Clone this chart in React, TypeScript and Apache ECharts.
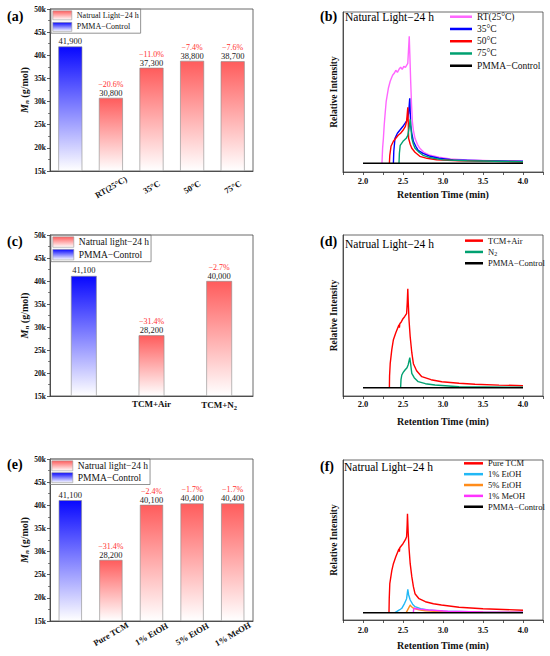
import React, { useEffect, useRef } from 'react';
import * as echarts from 'echarts';

const FONT = '"Liberation Serif", "Times New Roman", serif';
const CTRL = 'PMMA−Control';

// ---------- bar panels ----------
const catsA = ['', 'RT(25°C)', '35°C', '50°C', '75°C'];
const ctrlA = [41900, null, null, null, null];
const lightA = [null, 30800, 37300, 38800, 38700];
const pctA = ['', '−20.6%', '−11.0%', '−7.4%', '−7.6%'];

const catsC = ['', 'TCM+Air', 'TCM+N2'];
const ctrlC = [41100, null, null];
const lightC = [null, 28200, 40000];
const pctC = ['', '−31.4%', '−2.7%'];

const catsE = ['', 'Pure TCM', '1% EtOH', '5% EtOH', '1% MeOH'];
const ctrlE = [41100, null, null, null, null];
const lightE = [null, 28200, 40100, 40400, 40400];
const pctE = ['', '−31.4%', '−2.4%', '−1.7%', '−1.7%'];

// ---------- GPC curves (retention time, relative intensity) ----------
const tickX = [1.75, 2, 2.25, 2.5, 2.75, 3, 3.25, 3.5, 3.75, 4, 4.25];
const labelX = [2, 2.5, 3, 3.5, 4];

const bRT = [
  [2.237, 0], [2.245, 15], [2.255, 25], [2.265, 38], [2.275, 48], [2.29, 62], [2.317, 75],
  [2.34, 82], [2.37, 88], [2.39, 90], [2.41, 93], [2.43, 91], [2.45, 94], [2.47, 96],
  [2.49, 94], [2.51, 97], [2.53, 96], [2.545, 98], [2.56, 100], [2.57, 115], [2.578, 127],
  [2.585, 110], [2.596, 82], [2.606, 60], [2.617, 42], [2.63, 33], [2.65, 25], [2.68, 19],
  [2.71, 15], [2.76, 11], [2.84, 8], [2.95, 6], [3.09, 4.4], [3.3, 3.4], [3.6, 2.6], [4.0, 2],
];
const b35 = [
  [2.38, 0], [2.385, 12], [2.4, 25], [2.43, 30], [2.46, 33], [2.5, 37], [2.525, 40],
  [2.55, 43], [2.57, 50], [2.584, 65], [2.59, 52], [2.596, 38], [2.61, 30], [2.63, 22],
  [2.66, 17], [2.69, 13], [2.75, 10], [2.84, 7], [2.95, 5], [3.13, 3.4], [3.5, 2.5], [4.0, 2],
];
const b50 = [
  [2.33, 0], [2.335, 8], [2.35, 17], [2.38, 22], [2.41, 25], [2.44, 28], [2.47, 30],
  [2.5, 33], [2.53, 37], [2.545, 42], [2.56, 56], [2.566, 40], [2.57, 25], [2.59, 19],
  [2.61, 15], [2.65, 11], [2.71, 7], [2.8, 5], [2.92, 3.5], [3.2, 2.5], [4.0, 1.5],
];
const b75 = [
  [2.45, 0], [2.455, 10], [2.465, 18], [2.5, 22], [2.54, 25], [2.56, 28], [2.575, 35],
  [2.59, 44], [2.6, 35], [2.61, 25], [2.63, 19], [2.65, 15], [2.7, 11], [2.75, 8],
  [2.85, 5.5], [3.0, 3.4], [3.3, 2.5], [4.0, 1.5],
];
const baseLine = [[2.0, 0], [4.0, 0]];

const dAir = [
  [2.33, 0], [2.332, 12], [2.34, 24], [2.36, 38], [2.38, 48], [2.41, 55], [2.44, 61],
  [2.45, 63], [2.455, 60], [2.46, 64], [2.48, 66], [2.5, 69], [2.52, 71], [2.545, 74],
  [2.553, 85], [2.56, 99], [2.566, 85], [2.575, 68], [2.59, 51], [2.61, 35], [2.63, 24],
  [2.67, 17], [2.735, 11], [2.85, 8], [2.985, 6], [3.2, 4.5], [3.4, 3.4], [3.7, 2.6], [4.0, 2],
];
const dN2 = [
  [2.47, 0], [2.475, 8], [2.485, 12.7], [2.5, 15], [2.525, 17.7], [2.55, 20], [2.565, 23],
  [2.585, 30], [2.595, 24], [2.61, 14.4], [2.64, 10], [2.69, 6], [2.78, 4], [2.9, 2.7],
  [3.2, 1], [4.0, 0.5],
];

const fTCM = [
  [2.325, 0], [2.328, 14], [2.335, 29], [2.36, 42], [2.38, 49], [2.41, 56], [2.44, 62],
  [2.45, 64], [2.455, 61], [2.46, 65], [2.47, 66], [2.5, 69], [2.53, 73], [2.545, 76],
  [2.552, 88], [2.556, 99], [2.565, 80], [2.575, 65], [2.59, 49], [2.61, 36], [2.63, 26],
  [2.65, 19], [2.7, 14], [2.78, 11], [2.88, 9], [2.98, 7.7], [3.2, 5.5], [3.5, 4], [4.0, 2.5],
];
const fEt1 = [
  [2.4, 0], [2.43, 1.5], [2.46, 3], [2.485, 4.4], [2.52, 9.4], [2.545, 14], [2.56, 23.4],
  [2.57, 18], [2.59, 12.7], [2.62, 8.5], [2.65, 6], [2.72, 4], [2.815, 2.7], [3.0, 1.5],
  [3.5, 0.8], [4.0, 0.5],
];
const fEt5 = [
  [2.54, 0], [2.56, 3], [2.58, 6], [2.59, 7.7], [2.6, 6.5], [2.63, 4.4], [2.7, 3],
  [2.78, 2], [3.0, 1], [3.5, 0.5], [4.0, 0.3],
];
const fMe1 = [
  [2.63, 0], [2.632, 3], [2.64, 4.4], [2.7, 3.6], [2.82, 2.7], [3.06, 1.4], [3.5, 0.8], [4.0, 0.5],
];

const fmt = (v: number) => v.toLocaleString('en-US');

const blueGrad = () =>
  new echarts.graphic.LinearGradient(0, 0, 0, 1, [
    { offset: 0, color: '#0808ff' },
    { offset: 1, color: '#ffffff' },
  ]);
const redGrad = () =>
  new echarts.graphic.LinearGradient(0, 0, 0, 1, [
    { offset: 0, color: '#ff5c5c' },
    { offset: 1, color: '#ffffff' },
  ]);

const AX = '#333';

function barX(gi: number, cats: string[], rotate: number, margin: number, fontSize: number) {
  return {
    type: 'category',
    gridIndex: gi,
    data: cats,
    axisLine: { lineStyle: { color: AX, width: 0.8 } },
    axisTick: { show: false },
    axisLabel: {
      interval: 0,
      rotate,
      margin,
      align: rotate ? 'center' : undefined,
      verticalAlign: rotate ? 'middle' : undefined,
      fontFamily: FONT,
      fontWeight: 'bold',
      fontSize,
      color: '#111',
      formatter: (v: string) => v.replace('N2', 'N{s|2}'),
      rich: { s: { fontFamily: FONT, fontWeight: 'bold', fontSize: 6.5, padding: [5, 0, 0, 0], color: '#111' } },
    },
  };
}

function barY(gi: number) {
  return {
    type: 'value',
    gridIndex: gi,
    min: 15000,
    max: 50000,
    interval: 5000,
    startValue: 15000,
    axisLine: { show: true, onZero: false, lineStyle: { color: AX, width: 0.8 } },
    axisTick: { show: true, length: 3, lineStyle: { color: AX, width: 0.8 } },
    minorTick: { show: true, splitNumber: 2, length: 2, lineStyle: { color: AX, width: 0.6 } },
    splitLine: { show: false },
    axisLabel: {
      formatter: (v: number) => v / 1000 + 'k',
      fontFamily: FONT,
      fontWeight: 'bold',
      fontSize: 7.5,
      color: '#111',
      margin: 4,
    },
    name: '{i|M}{s|n} (g/mol)',
    nameLocation: 'middle',
    nameGap: 20,
    nameTextStyle: {
      fontFamily: FONT,
      fontWeight: 'bold',
      fontSize: 10,
      color: '#111',
      rich: {
        i: { fontFamily: FONT, fontStyle: 'italic', fontWeight: 'bold', fontSize: 10, color: '#111' },
        s: { fontFamily: FONT, fontStyle: 'italic', fontWeight: 'bold', fontSize: 7, color: '#111', padding: [5, 0, 0, 0] },
      },
    },
  };
}

function barSeries(gi: number, ctrl: any[], light: any[], pct: string[], lightName: string, barWidth: string) {
  return [
    {
      type: 'bar',
      name: CTRL,
      xAxisIndex: gi,
      yAxisIndex: gi,
      data: ctrl,
      barWidth,
      barGap: '-100%',
      itemStyle: { color: blueGrad(), borderColor: '#8a8a8a', borderWidth: 0.6 },
      label: {
        show: true,
        position: 'top',
        distance: 1,
        formatter: (p: any) => fmt(p.value),
        fontFamily: FONT,
        fontSize: 8.5,
        color: '#222',
      },
      emphasis: { disabled: true },
    },
    {
      type: 'bar',
      name: lightName,
      xAxisIndex: gi,
      yAxisIndex: gi,
      data: light,
      barWidth,
      barGap: '-100%',
      itemStyle: { color: redGrad(), borderColor: '#8a8a8a', borderWidth: 0.6 },
      label: {
        show: true,
        position: 'top',
        distance: 1,
        formatter: (p: any) => `{p|${pct[p.dataIndex]}}\n{v|${fmt(p.value)}}`,
        rich: {
          p: { fontFamily: FONT, fontSize: 8, color: '#ff3030', lineHeight: 8.5 },
          v: { fontFamily: FONT, fontSize: 8.5, color: '#222', lineHeight: 8.5 },
        },
      },
      emphasis: { disabled: true },
    },
  ];
}

function lineX(gi: number, nameGap: number, margin: number) {
  return {
    type: 'value',
    gridIndex: gi,
    min: 1.75,
    max: 4.25,
    axisLine: { show: true, onZero: false, lineStyle: { color: AX, width: 0.8 } },
    axisTick: { show: true, customValues: tickX, length: 3, lineStyle: { color: AX, width: 0.8 } },
    axisLabel: {
      show: true,
      customValues: labelX,
      formatter: (v: number) => v.toFixed(1),
      fontFamily: FONT,
      fontWeight: 'bold',
      fontSize: 8.5,
      color: '#111',
      margin,
    },
    splitLine: { show: false },
    name: 'Retention Time (min)',
    nameLocation: 'middle',
    nameGap,
    nameTextStyle: { fontFamily: FONT, fontWeight: 'bold', fontSize: 10, color: '#111' },
  };
}

function lineY(gi: number, min: number, max: number) {
  return {
    type: 'value',
    gridIndex: gi,
    min,
    max,
    axisLine: { show: true, onZero: false, lineStyle: { color: AX, width: 0.8 } },
    axisTick: { show: false },
    axisLabel: { show: false },
    splitLine: { show: false },
    name: 'Relative Intensity',
    nameLocation: 'middle',
    nameGap: 4,
    nameTextStyle: { fontFamily: FONT, fontWeight: 'bold', fontSize: 9.5, color: '#111' },
  };
}

function line(gi: number, name: string, data: number[][], color: string) {
  return {
    type: 'line',
    name,
    xAxisIndex: gi,
    yAxisIndex: gi,
    data,
    showSymbol: false,
    symbol: 'none',
    lineStyle: { width: 1.4, color },
    itemStyle: { color },
    emphasis: { disabled: true },
  };
}

function barLegend(left: number, top: number, lightName: string, iw: number, ih: number, gap: number, fs: number) {
  return {
    left,
    top,
    orient: 'vertical',
    selectedMode: false,
    icon: 'rect',
    itemWidth: iw,
    itemHeight: ih,
    itemGap: gap,
    padding: [1.5, 2, 1.5, 1.5],
    borderColor: '#777',
    borderWidth: 0.8,
    textStyle: { fontFamily: FONT, fontSize: fs, color: '#111', lineHeight: ih },
    data: [
      { name: lightName, itemStyle: { color: redGrad(), borderColor: '#999', borderWidth: 0.6 } },
      { name: CTRL, itemStyle: { color: blueGrad(), borderColor: '#999', borderWidth: 0.6 } },
    ],
  };
}

function lineLegend(left: number, top: number, names: string[], colors: string[], iw: number, fs: number, lh: number) {
  return {
    left,
    top,
    orient: 'vertical',
    selectedMode: false,
    icon: 'rect',
    itemWidth: iw,
    itemHeight: 2.5,
    itemGap: 0,
    padding: 0,
    formatter: (n: string) => (n === 'N2' ? 'N{s|2}' : n),
    textStyle: {
      fontFamily: FONT,
      fontSize: fs,
      color: '#111',
      lineHeight: lh,
      rich: { s: { fontFamily: FONT, fontSize: 6, color: '#111', padding: [4, 0, 0, 0] } },
    },
    data: names.map((n, i) => ({ name: n, itemStyle: { color: colors[i], borderWidth: 0 } })),
  };
}

function txt(x: number, y: number, text: string, size: number, bold: boolean) {
  return {
    type: 'text',
    x,
    y,
    style: {
      text,
      fontFamily: FONT,
      fontSize: size,
      fontWeight: bold ? 'bold' : 'normal',
      fill: '#000',
      align: 'left',
      verticalAlign: 'middle',
    },
  };
}

function buildOption() {
  const grids = [
    { left: 50, top: 9, width: 203, height: 162 },
    { left: 343, top: 12, width: 200, height: 160 },
    { left: 50, top: 235, width: 203, height: 161 },
    { left: 343, top: 235, width: 200, height: 161 },
    { left: 50, top: 459, width: 203, height: 162 },
    { left: 343, top: 460, width: 200, height: 160 },
  ].map((g) => ({ ...g, show: true, borderColor: '#444', borderWidth: 0.8 }));

  const LA = 'Natrual Light−24 h';
  const LC = 'Natrual light−24 h';

  const cB = ['#ff66ff', '#0000ff', '#ff0000', '#00a070', '#000000'];
  const cD = ['#ff0000', '#00a070', '#000000'];
  const cF = ['#ff0000', '#22b8f5', '#ff8c1a', '#ff33ff', '#000000'];

  const nB = ['RT(25°C)', '35°C', '50°C', '75°C', CTRL];
  const nD = ['TCM+Air', 'N2', CTRL];
  const nF = ['Pure TCM', '1% EtOH', '5% EtOH', '1% MeOH', CTRL];

  return {
    animation: false,
    backgroundColor: '#ffffff',
    grid: grids,
    xAxis: [
      barX(0, catsA, 30, 16, 8.5),
      lineX(1, 17, 4.5),
      barX(2, catsC, 0, 3, 9),
      lineX(3, 20, 3),
      barX(4, catsE, 30, 13, 8.5),
      lineX(5, 20, 5),
    ],
    yAxis: [
      barY(0),
      lineY(1, -8.7, 151.3),
      barY(2),
      lineY(3, -8.3, 152.7),
      barY(4),
      lineY(5, -7.3, 152.7),
    ],
    legend: [
      barLegend(51, 9, LA, 19, 9, 2, 8),
      barLegend(51, 235, LC, 21, 10.5, 1.5, 9.5),
      barLegend(50, 459, LC, 21, 10, 1.3, 9.5),
      lineLegend(450, 10.6, nB, cB, 22, 9.5, 12.25),
      lineLegend(465, 235, nD, cD, 18, 8.5, 11.3),
      lineLegend(464, 457.9, nF, cF, 19, 8.5, 10.85),
    ],
    series: [
      ...barSeries(0, ctrlA, lightA, pctA, LA, '59%'),
      ...barSeries(2, ctrlC, lightC, pctC, LC, '38%'),
      ...barSeries(4, ctrlE, lightE, pctE, LC, '57%'),
      line(1, nB[0], bRT, cB[0]),
      line(1, nB[1], b35, cB[1]),
      line(1, nB[2], b50, cB[2]),
      line(1, nB[3], b75, cB[3]),
      line(1, CTRL, baseLine, cB[4]),
      line(3, nD[0], dAir, cD[0]),
      line(3, nD[1], dN2, cD[1]),
      line(3, CTRL, baseLine, cD[2]),
      line(5, nF[0], fTCM, cF[0]),
      line(5, nF[1], fEt1, cF[1]),
      line(5, nF[2], fEt5, cF[2]),
      line(5, nF[3], fMe1, cF[3]),
      line(5, CTRL, baseLine, cF[4]),
    ],
    graphic: [
      txt(7, 16, '(a)', 14, true),
      txt(320, 16, '(b)', 14, true),
      txt(7, 241, '(c)', 14, true),
      txt(320, 241, '(d)', 14, true),
      txt(7, 464.5, '(e)', 14, true),
      txt(320, 466, '(f)', 14, true),
      txt(345, 17, 'Natural Light−24 h', 11.5, false),
      txt(345, 243.5, 'Natrual Light−24 h', 11.5, false),
      txt(344, 467, 'Natrual Light−24 h', 11.5, false),
    ],
  };
}

export default function App() {
  const ref = useRef<HTMLDivElement>(null);
  useEffect(() => {
    const chart = echarts.init(ref.current as HTMLDivElement, null, { renderer: 'svg' });
    chart.setOption(buildOption() as any);
    return () => chart.dispose();
  }, []);
  return (
    <div
      ref={ref}
      style={{ position: 'fixed', left: 0, top: 0, width: 550, height: 656, background: '#fff' }}
    />
  );
}
